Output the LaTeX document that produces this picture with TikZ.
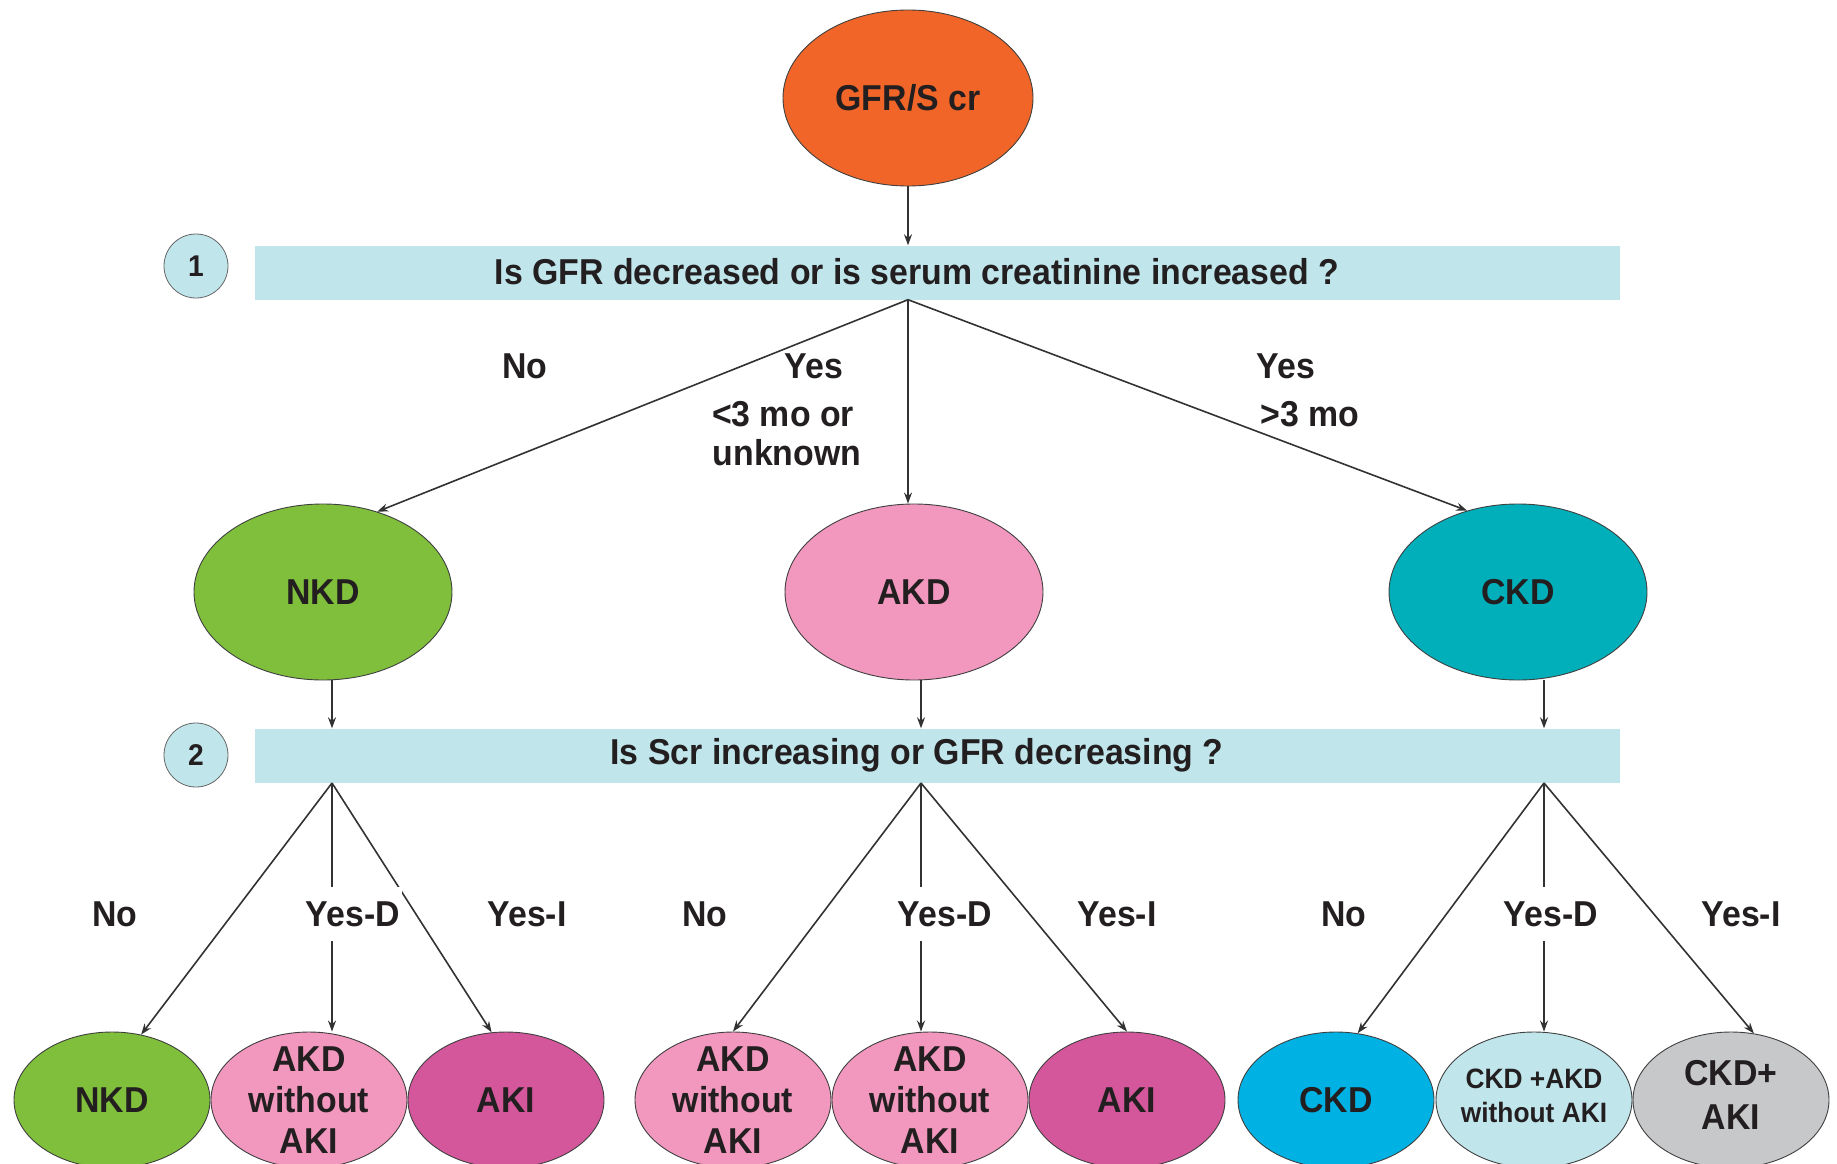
\documentclass[tikz,border=0pt]{standalone}
\usepackage{fontspec}
\setmainfont{Liberation Sans}[BoldFeatures={FakeStretch=0.94}]
\usetikzlibrary{shapes.geometric,arrows.meta}
\definecolor{cOrange}{RGB}{241,102,40}
\definecolor{cBar}{RGB}{192,230,236}
\definecolor{cGreen}{RGB}{127,191,59}
\definecolor{cPink}{RGB}{242,152,190}
\definecolor{cTeal}{RGB}{0,175,186}
\definecolor{cMag}{RGB}{212,87,156}
\definecolor{cBlue}{RGB}{0,178,227}
\definecolor{cGray}{RGB}{199,200,202}
\definecolor{cText}{RGB}{35,31,32}
\definecolor{cLine}{RGB}{50,50,50}
\begin{document}
\begin{tikzpicture}[x=1pt,y=-1pt,
  every node/.style={text=cText, font=\bfseries\fontsize{36}{41}\selectfont},
  ell/.style={ellipse, draw=black!75, line width=0.9pt, inner sep=0pt},
  big/.style={ell, minimum width=258pt, minimum height=176pt},
  small/.style={ell, minimum width=196pt, minimum height=136pt},
  qbar/.style={fill=cBar, minimum width=1365pt, minimum height=54pt, inner sep=0pt},
  num/.style={circle, fill=cBar, draw=black!60, line width=0.8pt, minimum size=64pt, inner sep=0pt, font=\bfseries\fontsize{30}{30}\selectfont},
  lbl/.style={align=center, inner sep=0pt},
  lab/.style={inner sep=1pt},
  gaplab/.style={inner xsep=2pt, inner ysep=14pt, fill=white},
  arr/.style={draw=cLine, line width=1.6pt, -{Stealth[length=11pt,width=8pt]}}
]
\useasboundingbox (0,0) rectangle (1837,1164);
\clip (0,0) rectangle (1837,1164);

% top
\node[ell, fill=cOrange, minimum width=250pt, minimum height=176pt] (gfr) at (908,98) {GFR/S cr};

% question 1
\node[num] (n1) at (196,266) {1};
\node[qbar] (q1) at (937.5,272.5) {};
\node[lab] (q1t) at (917,272) {Is GFR decreased or is serum creatinine increased ?};

% middle ellipses
\node[big, fill=cGreen] (nkd) at (323,592) {NKD};
\node[big, fill=cPink] (akd) at (914,592) {AKD};
\node[big, fill=cTeal] (ckd) at (1518,592) {CKD};

% question 2
\node[num] (n2) at (196,755) {2};
\node[qbar] (q2) at (937.5,755.5) {};
\node[lab] (q2t) at (917,755) {Is Scr increasing or GFR decreasing ?};

% bottom ellipses
\node[small, fill=cGreen] (b1) at (112,1100) {};
\node[small, fill=cPink]  (b2) at (309,1100) {};
\node[small, fill=cMag]   (b3) at (506,1100) {};
\node[small, fill=cPink]  (b4) at (733,1100) {};
\node[small, fill=cPink]  (b5) at (930,1100) {};
\node[small, fill=cMag]   (b6) at (1127,1100) {};
\node[small, fill=cBlue]  (b7) at (1336,1100) {};
\node[small, fill=cBar]   (b8) at (1534,1100) {};
\node[small, fill=cGray]  (b9) at (1731,1100) {};

\node[lbl] (t1) at (b1) {NKD};
\node[lbl] (t2) at (b2) {AKD\\without\\AKI};
\node[lbl] (t3) at (b3) {AKI};
\node[lbl] (t4) at (b4) {AKD\\without\\AKI};
\node[lbl] (t5) at (b5) {AKD\\without\\AKI};
\node[lbl] (t6) at (b6) {AKI};
\node[lbl] (t7) at (b7) {CKD};
\node[lbl, font=\bfseries\fontsize{28}{34}\selectfont] (t8) at (1534,1096) {CKD +AKD\\without AKI};
\node[lbl, font=\bfseries\fontsize{36}{44}\selectfont] (t9) at (1731,1095) {CKD+\\AKI};

% connectors level 0-1
\coordinate (t0) at (gfr |- q1.south);
\draw[arr] (gfr.south) -- (gfr.south |- q1.north);
\draw[arr] (t0) -- (nkd.56);
\draw[arr] (t0) -- (t0 |- akd.north);
\draw[arr] (t0) -- (ckd.122);

% connectors level 1-2
\coordinate (s1) at (332,783);
\coordinate (s2) at (921,783);
\coordinate (s3) at (1544,783);
\draw[arr] (nkd.south -| s1) -- (s1 |- q2.north);
\draw[arr] (akd.south -| s2) -- (s2 |- q2.north);
\draw[arr] (ckd.south -| s3) -- (s3 |- q2.north);

% connectors level 2-3
\draw[arr] (s1) -- (b1.66);
\draw[arr] (s1) -- (s1 |- b2.north);
\draw[arr] (s1) -- (b3.102);
\draw[arr] (s2) -- (b4.north);
\draw[arr] (s2) -- (s2 |- b5.north);
\draw[arr] (s2) -- (b6.north);
\draw[arr] (s3) -- (b7.72);
\draw[arr] (s3) -- (s3 |- b8.north);
\draw[arr] (s3) -- (b9.71);

% labels level 1
\node[lab] (l1) at (525,366) {No};
\node[lab] (l2) at (814,366) {Yes};
\node[lab] (l3) at (783,414) {<3 mo or};
\node[lab] (l4) at (787,453) {unknown};
\node[lab] (l5) at (1286,366) {Yes};
\node[lab] (l6) at (1310,414) {>3 mo};

% labels level 2
\node[lab] (m1) at (115,914) {No};
\node[gaplab] (m2) at (353,914) {Yes-D};
\node[lab] (m3) at (527,914) {Yes-I};
\node[lab] (m4) at (705,914) {No};
\node[gaplab] (m5) at (945,914) {Yes-D};
\node[lab] (m6) at (1117,914) {Yes-I};
\node[lab] (m7) at (1344,914) {No};
\node[gaplab] (m8) at (1551,914) {Yes-D};
\node[lab] (m9) at (1741,914) {Yes-I};
\end{tikzpicture}
\end{document}
